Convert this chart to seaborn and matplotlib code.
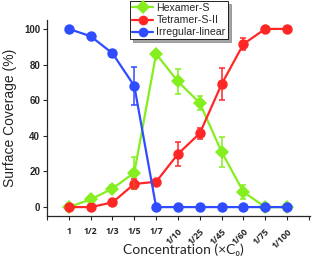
import matplotlib
matplotlib.use("Agg")
import matplotlib.pyplot as plt
import seaborn as sns
import pandas as pd
import numpy as np

categories = ["1", "1/2", "1/3", "1/5", "1/7", "1/10", "1/25", "1/45", "1/60", "1/75", "1/100"]
hexamer = [0, 4.3, 10.4, 19.3, 86, 70.5, 58.4, 31, 8.5, 0, 0]
hexamer_err = [0, 1.5, 2, 9, 0, 7, 3.7, 8.5, 4, 0, 0]
tetramer = [0, 0, 2.6, 13, 14.2, 29.8, 41.4, 69, 91.5, 100, 100]
tetramer_err = [0, 0, 0.5, 3, 0, 6.7, 3, 9, 3.3, 0, 0]
irregular = [100, 95.9, 86.3, 68, 0, 0, 0, 0, 0, 0, 0]
irregular_err = [1, 1.5, 2, 10.5, 0, 0, 0, 0, 0, 0, 0]

series = [
    ("Hexamer-S", hexamer, hexamer_err, "#84EE1E", "D"),
    ("Tetramer-S-II", tetramer, tetramer_err, "#FF2626", "o"),
    ("Irregular-linear", irregular, irregular_err, "#2F4CFF", "o"),
]

rows = []
for name, vals, errs, c, m in series:
    for i, (v, e) in enumerate(zip(vals, errs)):
        rows.append({"x": i, "y": v, "err": e, "series": name})
df = pd.DataFrame(rows)

sns.set_style("ticks")
plt.rcParams["font.family"] = ["Liberation Sans", "DejaVu Sans"]

fig = plt.figure(figsize=(3.12, 2.6), dpi=100)
ax = fig.add_axes([47/312, 1-216/260, (310-47)/312, (216-20)/260])

palette = {name: c for name, _, _, c, _ in series}
markers = {name: m for name, _, _, _, m in series}
sns.lineplot(data=df, x="x", y="y", hue="series", style="series",
             palette=palette, markers=markers, dashes=False, ax=ax,
             linewidth=1.6, markersize=7.5, markeredgewidth=0, legend=False)

for name, vals, errs, c, m in series:
    sub = df[df["series"] == name]
    ax.errorbar(sub["x"], sub["y"], yerr=sub["err"], fmt="none", ecolor=c,
                elinewidth=1.1, capsize=2.5, capthick=1.1)

ax.set_xlim(-1, 11.05)
ax.set_ylim(-5, 105)
ax.set_yticks([0, 20, 40, 60, 80, 100])
ax.set_yticklabels(["0", "20", "40", "60", "80", "100"], fontsize=7, fontweight="bold")
ax.set_xticks(range(-1, 12))
ax.set_xticklabels([""] + categories + [""], fontsize=6.3, fontweight="bold",
                   family=["Open Sans", "DejaVu Sans"])
for i, lab in enumerate(ax.get_xticklabels()):
    if 6 <= i <= 11:
        lab.set_rotation(45)
        lab.set_ha("right")
        lab.set_va("top")
        lab.set_rotation_mode("anchor")
ax.tick_params(axis="both", length=3, width=0.8, pad=2, direction="out")
ax.tick_params(axis="x", pad=5)
for s in ["left", "bottom"]:
    ax.spines[s].set_linewidth(0.9)
sns.despine(ax=ax)

ax.set_xlabel("")
ax.set_ylabel("Surface Coverage (%)", fontsize=10, labelpad=5)
fig.text(183/312, 1-250/260, "Concentration (×C₀)", fontsize=10,
         family=["Lato", "DejaVu Sans"], ha="center", va="center")

from matplotlib.lines import Line2D
handles = [Line2D([0], [0], color=c, marker=m, lw=1.6, markersize=7, markeredgewidth=0)
           for _, _, _, c, m in series]
leg = fig.legend(handles, [s[0] for s in series], loc="upper left",
                 bbox_to_anchor=(130/312, 1-1/260), fontsize=7.6, frameon=True,
                 fancybox=False, shadow=True, edgecolor="black", framealpha=1,
                 handlelength=2.0, handletextpad=0.3, borderpad=0.2, labelspacing=0.2,
                 borderaxespad=0)
leg.get_frame().set_linewidth(0.6)

fig.savefig("out.png", dpi=100)
